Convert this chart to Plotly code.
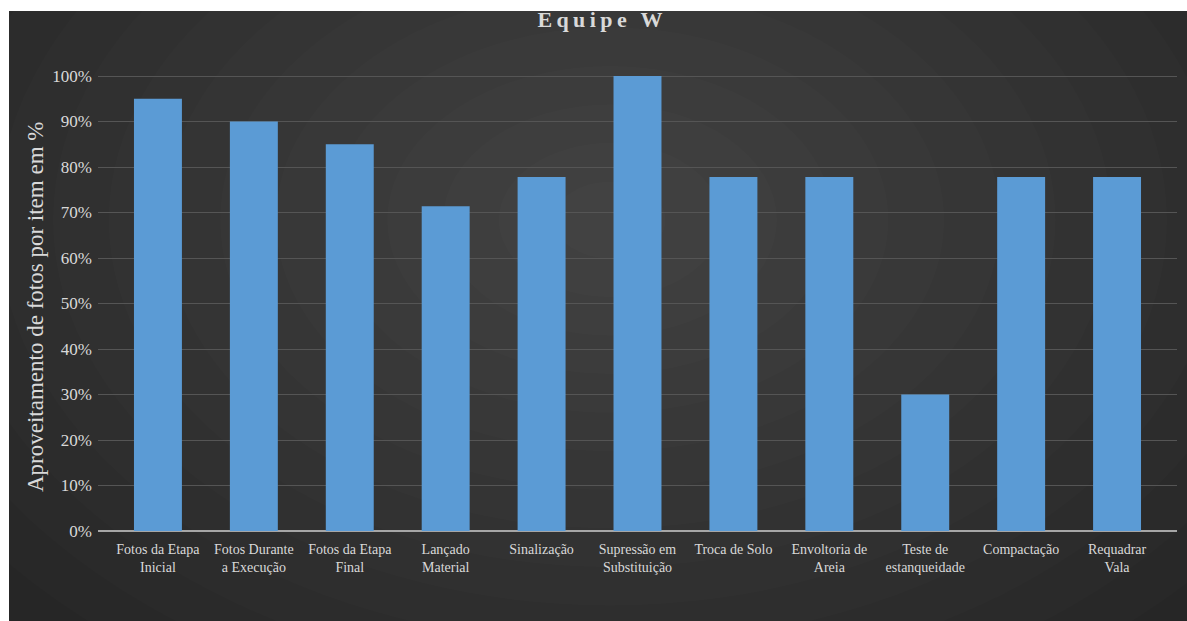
import plotly.graph_objects as go

categories = ["Fotos da Etapa<br>Inicial", "Fotos Durante<br>a Execução", "Fotos da Etapa<br>Final",
              "Lançado<br>Material", "Sinalização", "Supressão em<br>Substituição", "Troca de Solo",
              "Envoltoria de<br>Areia", "Teste de<br>estanqueidade", "Compactação", "Requadrar<br>Vala"]
values = [0.95, 0.90, 0.85, 0.714, 0.778, 1.00, 0.778, 0.778, 0.30, 0.778, 0.778]
y_ticks = [0, 0.1, 0.2, 0.3, 0.4, 0.5, 0.6, 0.7, 0.8, 0.9, 1.0]
y_tick_labels = ["0%", "10%", "20%", "30%", "40%", "50%", "60%", "70%", "80%", "90%", "100%"]

W, H = 1187, 621
def px(x):
    return x / W
def py(y):
    return 1 - y / H

FONT = "Liberation Serif, Times New Roman, serif"
TXT = "#d9d9d9"

shapes = [dict(type="rect", xref="paper", yref="paper", x0=px(9), x1=1, y0=0, y1=py(11),
               fillcolor="#262626", line=dict(width=0), layer="below")]
cx, cy = 610, 220
n = 14
for i in range(n):
    f = 1 - i / n
    rx, ry = 780 * f, 540 * f
    shapes.append(dict(type="circle", xref="paper", yref="paper",
                       x0=px(cx - rx), x1=px(cx + rx), y0=py(cy + ry), y1=py(cy - ry),
                       fillcolor="#ffffff", opacity=0.0135, line=dict(width=0), layer="below"))
shapes.append(dict(type="rect", xref="paper", yref="paper", x0=-0.01, x1=1.01, y0=py(11), y1=1.01,
                   fillcolor="white", line=dict(width=0), layer="below"))
shapes.append(dict(type="rect", xref="paper", yref="paper", x0=-0.01, x1=px(9), y0=-0.01, y1=1.01,
                   fillcolor="white", line=dict(width=0), layer="below"))

fig = go.Figure(go.Bar(x=list(range(len(categories))), y=values,
                       marker=dict(color="#5b9bd5", line=dict(width=0)), width=0.5))

fig.update_layout(
    width=W, height=H,
    margin=dict(l=0, r=0, t=0, b=0, autoexpand=False),
    paper_bgcolor="white",
    plot_bgcolor="rgba(0,0,0,0)",
    shapes=shapes,
    showlegend=False,
    font=dict(family=FONT, color=TXT),
    title=dict(text="<b>E\u2009q\u2009u\u2009i\u2009p\u2009e\u2009\u2009 W</b>", x=px(600), xanchor="center",
               y=py(19), yanchor="middle", font=dict(family=FONT, size=22, color=TXT)),
    xaxis=dict(domain=[px(98), px(1177)], range=[-0.625, 10.625],
               tickmode="array", tickvals=list(range(len(categories))), ticktext=categories,
               showgrid=False, zeroline=False, showline=False, ticks="", ticklabelstandoff=8,
               tickfont=dict(family=FONT, size=14, color=TXT), tickangle=0),
    yaxis=dict(domain=[py(531), py(71.45)], range=[0, 1.01],
               tickmode="array", tickvals=y_ticks, ticktext=y_tick_labels,
               showgrid=True, gridcolor="#555555", gridwidth=1,
               zeroline=True, zerolinecolor="#a6a6a6", zerolinewidth=2,
               showline=False, ticks="", ticklabelstandoff=5,
               tickfont=dict(family=FONT, size=17, color=TXT)),
    annotations=[dict(text="Aproveitamento de fotos por item em %", textangle=-90,
                      xref="paper", yref="paper", x=px(35), y=py(307),
                      xanchor="center", yanchor="middle", showarrow=False,
                      font=dict(family=FONT, size=23, color=TXT))],
)

fig.write_html("out.html")
